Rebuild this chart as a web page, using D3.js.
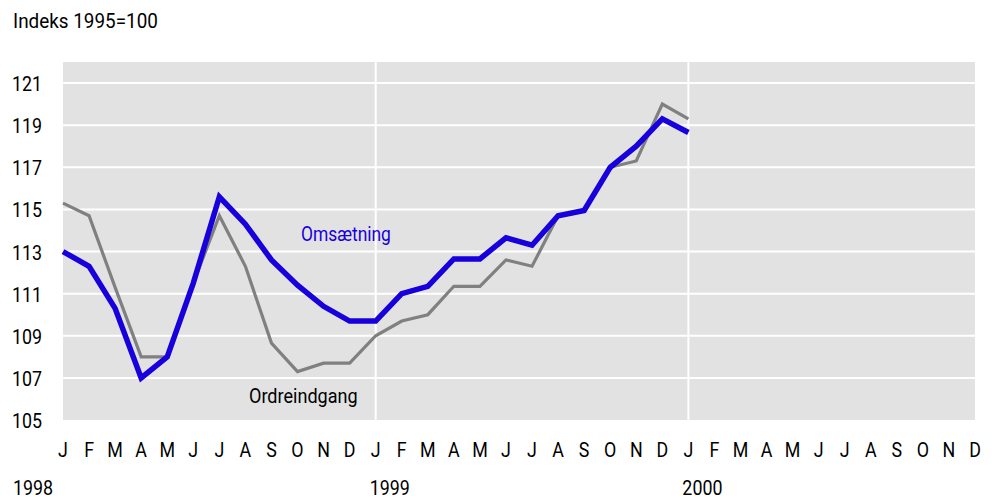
<!DOCTYPE html>
<html><head><meta charset="utf-8">
<script src="https://cdn.jsdelivr.net/npm/d3@7"></script>
<style>
body{margin:0;background:#fff;}
text{font-family:Roboto,"Liberation Sans",sans-serif;}
</style></head>
<body><svg id="c" width="998" height="501"></svg>
<script>
const months = ["J","F","M","A","M","J","J","A","S","O","N","D","J","F","M","A","M","J","J","A","S","O","N","D","J","F","M","A","M","J","J","A","S","O","N","D"];
const years = ["1998","1999","2000"];
const yTicks = [105,107,109,111,113,115,117,119,121];
const omsaetning = [113.0,112.3,110.3,107.0,108.0,111.5,115.6,114.3,112.6,111.4,110.4,109.7,
                    109.7,111.0,111.35,112.65,112.65,113.65,113.3,114.7,114.95,117.0,118.0,119.3,118.65];
const ordreindgang = [115.3,114.7,111.3,108.0,108.0,111.5,114.7,112.3,108.65,107.3,107.7,107.7,
                      109.0,109.7,110.0,111.35,111.35,112.6,112.3,114.7,114.95,117.0,117.3,120.0,119.3];

const svg = d3.select("#c");
const L=63, R=975, T=62, B=420;
const x = d3.scaleLinear().domain([0,35]).range([L,R]);
const y = d3.scaleLinear().domain([105,122]).range([B,T]);
const SX = 0.85, FS = 21;

function narrow(sel, tx, ty, str, anchor, color, sx){
  const g = sel.append("g").attr("transform",`translate(${tx},${ty}) scale(${sx||SX},1)`);
  g.append("text").attr("text-anchor",anchor||"start").attr("font-size",FS)
    .attr("fill",color||"#000").text(str);
  return g;
}

svg.append("rect").attr("x",L).attr("y",T).attr("width",R-L).attr("height",B-T).attr("fill","#e2e2e2");
svg.selectAll(".hg").data(yTicks.slice(1)).enter().append("line")
  .attr("x1",L).attr("x2",R).attr("y1",d=>y(d)).attr("y2",d=>y(d))
  .attr("stroke","#fff").attr("stroke-width",2);
svg.selectAll(".vg").data([12,24]).enter().append("line")
  .attr("x1",d=>x(d)).attr("x2",d=>x(d)).attr("y1",T).attr("y2",B)
  .attr("stroke","#fff").attr("stroke-width",2);

yTicks.forEach(v => narrow(svg, 42, y(v)+8, String(v), "end"));
months.forEach((m,i) => narrow(svg, x(i), 457, m, "middle"));
years.forEach((yr,i) => narrow(svg, i===0 ? 13 : x(i*12)-6, 495, yr, "start"));
narrow(svg, 13, 28, "Indeks 1995=100", "start", "#000", 0.9);

const line = d3.line().x((d,i)=>x(i)).y(d=>y(d));
svg.append("path").datum(ordreindgang).attr("d",line).attr("fill","none")
  .attr("stroke","#808080").attr("stroke-width",3.2);
svg.append("path").datum(omsaetning).attr("d",line).attr("fill","none")
  .attr("stroke","#1800dc").attr("stroke-width",5.5);

narrow(svg, 301, 241, "Omsætning", "start", "#1800dc", 0.83);
narrow(svg, 249, 403, "Ordreindgang", "start", "#000", 0.86);
</script></body></html>
